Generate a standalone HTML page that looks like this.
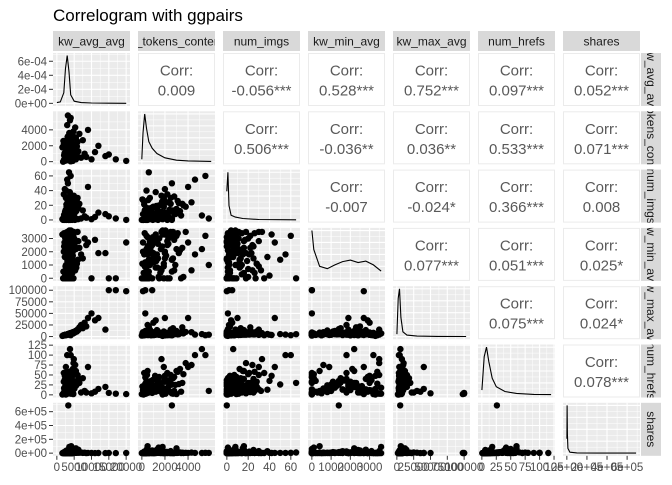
<!DOCTYPE html>
<html><head><meta charset="utf-8"><style>
html,body{margin:0;padding:0;background:#fff;}
svg text{font-family:"Liberation Sans",sans-serif;}
</style></head><body>
<svg id="chart" width="672" height="480" viewBox="0 0 672 480" xmlns="http://www.w3.org/2000/svg">
<text x="53" y="21" font-size="17" fill="#000">Correlogram with ggpairs</text>
</svg>
<script>
const varNames = ["kw_avg_avg","n_tokens_content","num_imgs","kw_min_avg","kw_max_avg","num_hrefs","shares"];
const domains = [[0,20000],[0,6000],[0,65],[0,3600],[0,103000],[0,120],[0,690000]];
const ticks0 = [0,5000,10000,15000,20000];
const ticks1 = [0,2000,4000];
const ticks2 = [0,20,40,60];
const ticks3 = [0,1000,2000,3000];
const ticks4 = [0,25000,50000,75000,100000];
const ticks5 = [0,25,50,75,100,125];
const ticks6 = [0,200000,400000,600000];
const tickLabels6 = ["0e+00","2e+05","4e+05","6e+05"];
const densTicks = [0,0.0002,0.0004,0.0006];
const densTickLabels = ["0e+00","2e-04","4e-04","6e-04"];
const densDomain0 = [0,0.00068];

// observations (one entry per article)
const kwAvgAvgA = [3000,3500,2800,4200,3100,2500,5000,3900,2200,4500,6000,3300,2700,5500,3600,7000,8000,9000,10000,4000,3500,3200,12000,15000,17000,20000,14000,6500,2000,4800,3300,2600,3800,4400,2900,3700,4100,3400,2400,5800,4600,3200,2100,6200,5300,2300,3600,4900,11000,8500,3000,4300,2800,3800,5100,7500,3100,2600,4700];
const kwAvgAvgB = [1800,2100,2400,2600,2900,3100,3300,3500,3700,3900,4100,4300,4500,4700,5000,5200,5500,2000,2300,2700,3000,3200,3400,3600,3800,4000,4200,4400,4600,4800,1600,1900,2200,2500,2800,3050,3250,3450,3650,3850,4050,4250,4600,5100,5600,6100,2150,2450,2750,3150,3550,3950,4350,4750,2350,2650,2950,3350,3750,4150];
const nTokensA = [200,450,300,800,1200,600,1500,2000,100,900,2500,700,400,3000,1800,500,1000,4000,300,5500,600,5800,2000,900,300,100,700,3500,2200,3800,2600,150,350,1100,1400,2400,2800,1600,500,1900,3300,2600,800,1300,4300,2000,3600,1700,1200,600,4600,2300,1000,5200,700,2700,3100,1900,400];
const nTokensB = [0,250,600,1100,1700,2300,2900,400,800,1300,1900,2500,150,700,1200,500,300,2000,1000,1500,2700,350,900,1600,2200,50,650,1400,2100,450,1800,2600,1050,250,750,1250,3200,550,950,1450,2050,3400,100,850,1350,600,2400,1150,200,1750,2800,400,1000,3000,1650,700,300,2200,1200,500];
const numImgsA = [1,2,0,10,5,1,20,25,0,3,30,12,40,15,8,2,5,45,1,60,65,2,10,5,2,0,8,22,35,18,0,0,1,4,6,14,9,3,2,28,12,50,7,16,24,42,20,33,4,3,55,11,18,6,9,13,26,30,1];
const numImgsB = [0,1,1,2,3,5,8,10,12,15,18,22,26,30,1,0,2,4,6,9,11,14,17,20,24,28,1,0,3,7,1,2,5,13,16,19,23,27,0,1,4,6,8,10,12,1,2,3,21,25,32,0,1,9,11,14,2,0,38,16];
const kwMinAvgA = [0,1000,0,2000,3300,500,3000,1500,0,2500,3500,1200,200,2200,3600,1800,3000,2700,0,3200,0,1000,1900,0,0,2700,1900,2300,0,3500,1400,0,800,1600,2600,3400,2900,400,3100,1100,2100,1400,2400,2800,600,3300,100,3500,2900,2500,1800,3000,1900,2200,2600,1500,3400,900,3200];
const kwMinAvgB = [0,3400,200,3000,600,2600,1000,2200,1400,1800,0,3200,400,2800,800,2400,1200,2000,1600,0,3500,300,2900,700,2500,1100,2100,1500,1700,0,3300,500,2700,900,2300,1300,1900,0,3100,100,3600,0,2000,2600,800,1400,0,3000,1800,2400,600,0,1200,3200,2200,1000,0,2800,1600,400];
const kwMaxAvgA = [4000,5500,3800,6000,4500,3500,9000,7000,2500,8000,15000,5000,4000,12000,6500,25000,30000,40000,50000,3000,5000,4000,40000,100000,100000,98000,15000,20000,3000,10000,5000,3000,5000,7000,4200,5600,6200,4800,3200,11000,8500,5200,2800,14000,9500,3300,6800,7500,35000,22000,4300,6600,4100,5300,9000,18000,4700,3600,7200];
const kwMaxAvgB = [2000,3000,3500,4000,4500,5000,5500,6000,6500,7000,7500,8000,8500,9000,10000,11000,12000,2500,3200,3800,4300,4800,5300,5800,6300,6800,7300,7800,8300,8800,1500,2800,3300,3600,4100,4600,5100,5600,6100,6600,7100,7600,9500,10500,13000,16000,3100,3700,4200,4700,5200,5700,6200,6700,3400,3900,4400,4900,5400,5900];
const numHrefsA = [5,10,3,20,15,8,30,40,2,12,50,25,35,60,18,6,10,70,4,100,30,10,15,5,3,2,20,30,55,80,26,1,7,14,22,28,45,9,11,33,65,26,17,40,75,48,52,90,8,6,100,36,23,115,19,42,58,70,4];
const numHrefsB = [2,5,8,12,16,20,25,30,35,40,4,7,10,14,18,22,28,33,38,45,3,6,9,13,17,21,26,31,36,50,1,4,11,15,19,23,27,32,37,42,3,8,12,16,24,29,34,48,55,6,10,14,18,2,20,26,44,9,13,60];
const sharesA = [1000,2500,800,5000,3000,1500,12000,20000,600,40000,30000,8000,4000,70000,90000,10000,6000,3000,2000,5000,9000,4000,2000,1500,1000,1500,1200,7000,2000,4500,690000,500,1800,2200,3500,1300,2700,6000,2400,15000,11000,3200,1700,50000,8000,2000,2600,3800,1200,900,4200,5500,1900,2800,7500,3300,3600,2100,1400];
const sharesB = [500,1200,2000,3000,4500,6000,8000,10000,15000,25000,800,1500,2500,3500,5000,7000,9000,12000,20000,35000,600,1100,1800,2800,4000,5500,7500,11000,18000,60000,700,1300,2200,3300,4800,6500,9500,14000,30000,80000,900,1600,2400,3800,5200,6800,8500,13000,22000,45000,1000,1400,2600,3600,4200,5800,7200,16000,28000,100000];
const observations = [kwAvgAvgA.concat(kwAvgAvgB),nTokensA.concat(nTokensB),numImgsA.concat(numImgsB),kwMinAvgA.concat(kwMinAvgB),kwMaxAvgA.concat(kwMaxAvgB),numHrefsA.concat(numHrefsB),sharesA.concat(sharesB)];

// densities for the diagonal
const dens0X = [0,1000,2000,2500,3000,3500,4000,5000,7000,10000,15000,20000];
const dens0Y = [0.00001,0.00002,0.00015,0.0005,0.00068,0.00045,0.00012,0.00003,0.00001,0.000005,0.000002,0.000001];
const dens1X = [0,100,250,400,600,900,1300,2000,3000,4000,6000];
const dens1Y = [0.05,0.6,1,0.7,0.42,0.28,0.17,0.08,0.03,0.015,0.005];
const dens2X = [0,1,2,4,8,15,30,65];
const dens2Y = [0.6,1,0.3,0.1,0.06,0.03,0.01,0.003];
const dens3X = [0,100,400,800,1200,1600,2000,2400,2800,3200,3600];
const dens3Y = [1,0.6,0.25,0.2,0.28,0.35,0.38,0.33,0.36,0.28,0.15];
const dens4X = [0,2000,4000,6000,9000,15000,30000,60000,103000];
const dens4Y = [0.05,0.8,1,0.4,0.1,0.03,0.01,0.003,0.001];
const dens5X = [0,4,8,12,18,25,40,60,90,120];
const dens5Y = [0.1,0.8,1,0.7,0.35,0.17,0.07,0.03,0.01,0.005];
const dens6X = [0,2000,5000,10000,30000,100000,300000,690000];
const dens6Y = [0.3,1,0.4,0.1,0.02,0.005,0.001,0];

// correlations, upper triangle by row
const corrRow1 = ["0.009","-0.056***","0.528***","0.752***","0.097***","0.052***"];
const corrRow2 = ["0.506***","-0.036**","0.036**","0.533***","0.071***"];
const corrRow3 = ["-0.007","-0.024*","0.366***","0.008"];
const corrRow4 = ["0.077***","0.051***","0.025*"];
const corrRow5 = ["0.075***","0.024*"];
const corrRow6 = ["0.078***"];

const tickSets = [ticks0,ticks1,ticks2,ticks3,ticks4,ticks5,ticks6];
const densXs = [dens0X,dens1X,dens2X,dens3X,dens4X,dens5X,dens6X];
const densYs = [dens0Y,dens1Y,dens2Y,dens3Y,dens4Y,dens5Y,dens6Y];
const corrRows = [corrRow1,corrRow2,corrRow3,corrRow4,corrRow5,corrRow6];

const NS = "http://www.w3.org/2000/svg";
const svg = document.getElementById("chart");
const PW = 77, PH = 53;
function colLeft(j){ return 53 + 85*j; }
function rowTop(i){ return 53 + 58.3*i; }
function sx(v, dom, left){ return left + (0.05 + 0.9*(v-dom[0])/(dom[1]-dom[0]))*PW; }
function sy(v, dom, top){ return top + PH - (0.05 + 0.9*(v-dom[0])/(dom[1]-dom[0]))*PH; }
function el(tag, attrs, parent){
  const e = document.createElementNS(NS, tag);
  for (const k in attrs) e.setAttribute(k, attrs[k]);
  (parent || svg).appendChild(e);
  return e;
}
function minors(t, dom){
  const out = [];
  const step = t[1]-t[0];
  for (let k=-1;k<t.length;k++){
    const m = (k<0 ? t[0]-step/2 : t[k]+step/2);
    const lo = dom[0] - 0.06*(dom[1]-dom[0]), hi = dom[1] + 0.06*(dom[1]-dom[0]);
    if (m>lo && m<hi) out.push(m);
  }
  return out;
}
function fmt(v){ return String(v); }

for (let i=0;i<7;i++){
  for (let j=0;j<7;j++){
    const left = colLeft(j), top = rowTop(i);
    const g = el("g", {});
    
    
    if (j > i){
      const r = el("rect", {x:left+0.5, y:top+0.5, width:PW-1, height:PH-1, fill:"#fff", stroke:"#ebebeb", "stroke-width":1}, g);
      
      
      const t1 = el("text", {x:left+PW/2, y:top+PH/2-4, "text-anchor":"middle", "font-size":"15", fill:"#595959"}, g);
      t1.textContent = "Corr:";
      
      
      const t2 = el("text", {x:left+PW/2, y:top+PH/2+16, "text-anchor":"middle", "font-size":"15", fill:"#595959"}, g);
      t2.textContent = corrRows[i][j-i-1];
      
      
      continue;
    }
    const bg = el("rect", {x:left, y:top, width:PW, height:PH, fill:"#ebebeb"}, g);
    
    
    const xd = domains[j], xt = tickSets[j];
    minors(xt, xd).forEach(m=>{ const x=sx(m,xd,left); if(x>left&&x<left+PW) el("line",{x1:x,x2:x,y1:top,y2:top+PH,stroke:"#fff","stroke-width":0.5},g); });
    xt.forEach(t=>{ const x=sx(t,xd,left); if(x>=left&&x<=left+PW) el("line",{x1:x,x2:x,y1:top,y2:top+PH,stroke:"#fff","stroke-width":1.1},g); });
    let yd, yt;
    if (i===j){
      yd = (i===0) ? densDomain0 : [0,1];
      yt = (i===0) ? densTicks : [0,0.25,0.5,0.75,1];
    } else { yd = domains[i]; yt = tickSets[i]; }
    minors(yt, yd).forEach(m=>{ const y=sy(m,yd,top); if(y>top&&y<top+PH) el("line",{x1:left,x2:left+PW,y1:y,y2:y,stroke:"#fff","stroke-width":0.5},g); });
    yt.forEach(t=>{ const y=sy(t,yd,top); if(y>=top&&y<=top+PH) el("line",{x1:left,x2:left+PW,y1:y,y2:y,stroke:"#fff","stroke-width":1.1},g); });
    if (i===j){
      const xs = densXs[i], ys = densYs[i];
      let d = "";
      for (let k=0;k<xs.length;k++) d += (k?"L":"M") + sx(xs[k],xd,left).toFixed(1) + "," + sy(ys[k],yd,top).toFixed(1);
      const p = el("path", {d:d, fill:"none", stroke:"#000", "stroke-width":1.1}, g);
      
      
    } else {
      const xv = observations[j], yv = observations[i];
      for (let k=0;k<xv.length;k++){
        const c = el("circle", {cx:sx(xv[k],xd,left).toFixed(1), cy:sy(yv[k],yd,top).toFixed(1), r:3.2, fill:"#000"}, g);
        
        
      }
    }
  }
}

// y axis (first column)
for (let i=0;i<7;i++){
  const top = rowTop(i);
  let yd, yt, labels;
  if (i===0){ yd = densDomain0; yt = densTicks; labels = densTickLabels; }
  else { yd = domains[i]; yt = tickSets[i]; labels = (i===6) ? tickLabels6 : yt.map(fmt); }
  yt.forEach((t,k)=>{
    const y = sy(t,yd,top);
    el("line",{x1:49,x2:53,y1:y,y2:y,stroke:"#333","stroke-width":1});
    const tx = el("text",{x:47,y:y+4,"text-anchor":"end","font-size":"11.5",fill:"#4d4d4d"});
    tx.textContent = labels[k];
    
    
  });
}
// x axis (bottom row)
const bottom = rowTop(6)+PH;
for (let j=0;j<7;j++){
  const left = colLeft(j), xd = domains[j], xt = tickSets[j];
  const labels = (j===6) ? tickLabels6 : xt.map(fmt);
  xt.forEach((t,k)=>{
    const x = sx(t,xd,left);
    el("line",{x1:x,x2:x,y1:bottom,y2:bottom+4,stroke:"#333","stroke-width":1});
    const tx = el("text",{x:x,y:bottom+15,"text-anchor":"middle","font-size":"11.5",fill:"#4d4d4d"});
    tx.textContent = labels[k];
    
    
  });
}
// strips
const defs = el("defs",{});
for (let j=0;j<7;j++){
  const left = colLeft(j);
  const cp = el("clipPath",{id:"ct"+j},defs);
  el("rect",{x:left,y:31,width:PW,height:20},cp);
  const r = el("rect",{x:left,y:31,width:PW,height:20,fill:"#d9d9d9"});
  
  
  const t = el("text",{x:left+PW/2,y:45.5,"text-anchor":"middle","font-size":"12",fill:"#1a1a1a","clip-path":"url(#ct"+j+")"});
  t.textContent = varNames[j];
  
  
}
for (let i=0;i<7;i++){
  const top = rowTop(i);
  const cp = el("clipPath",{id:"cr"+i},defs);
  el("rect",{x:641,y:top,width:20,height:PH},cp);
  const r = el("rect",{x:641,y:top,width:20,height:PH,fill:"#d9d9d9"});
  
  
  const gg = el("g",{"clip-path":"url(#cr"+i+")"});
  const cx = 651, cy = top+PH/2;
  const t = el("text",{x:cx,y:cy,"text-anchor":"middle","font-size":"12",fill:"#1a1a1a",transform:"rotate(90 "+cx+" "+cy+") translate(0 4)"},gg);
  t.textContent = varNames[i];
  
  
}
</script>
</body></html>
